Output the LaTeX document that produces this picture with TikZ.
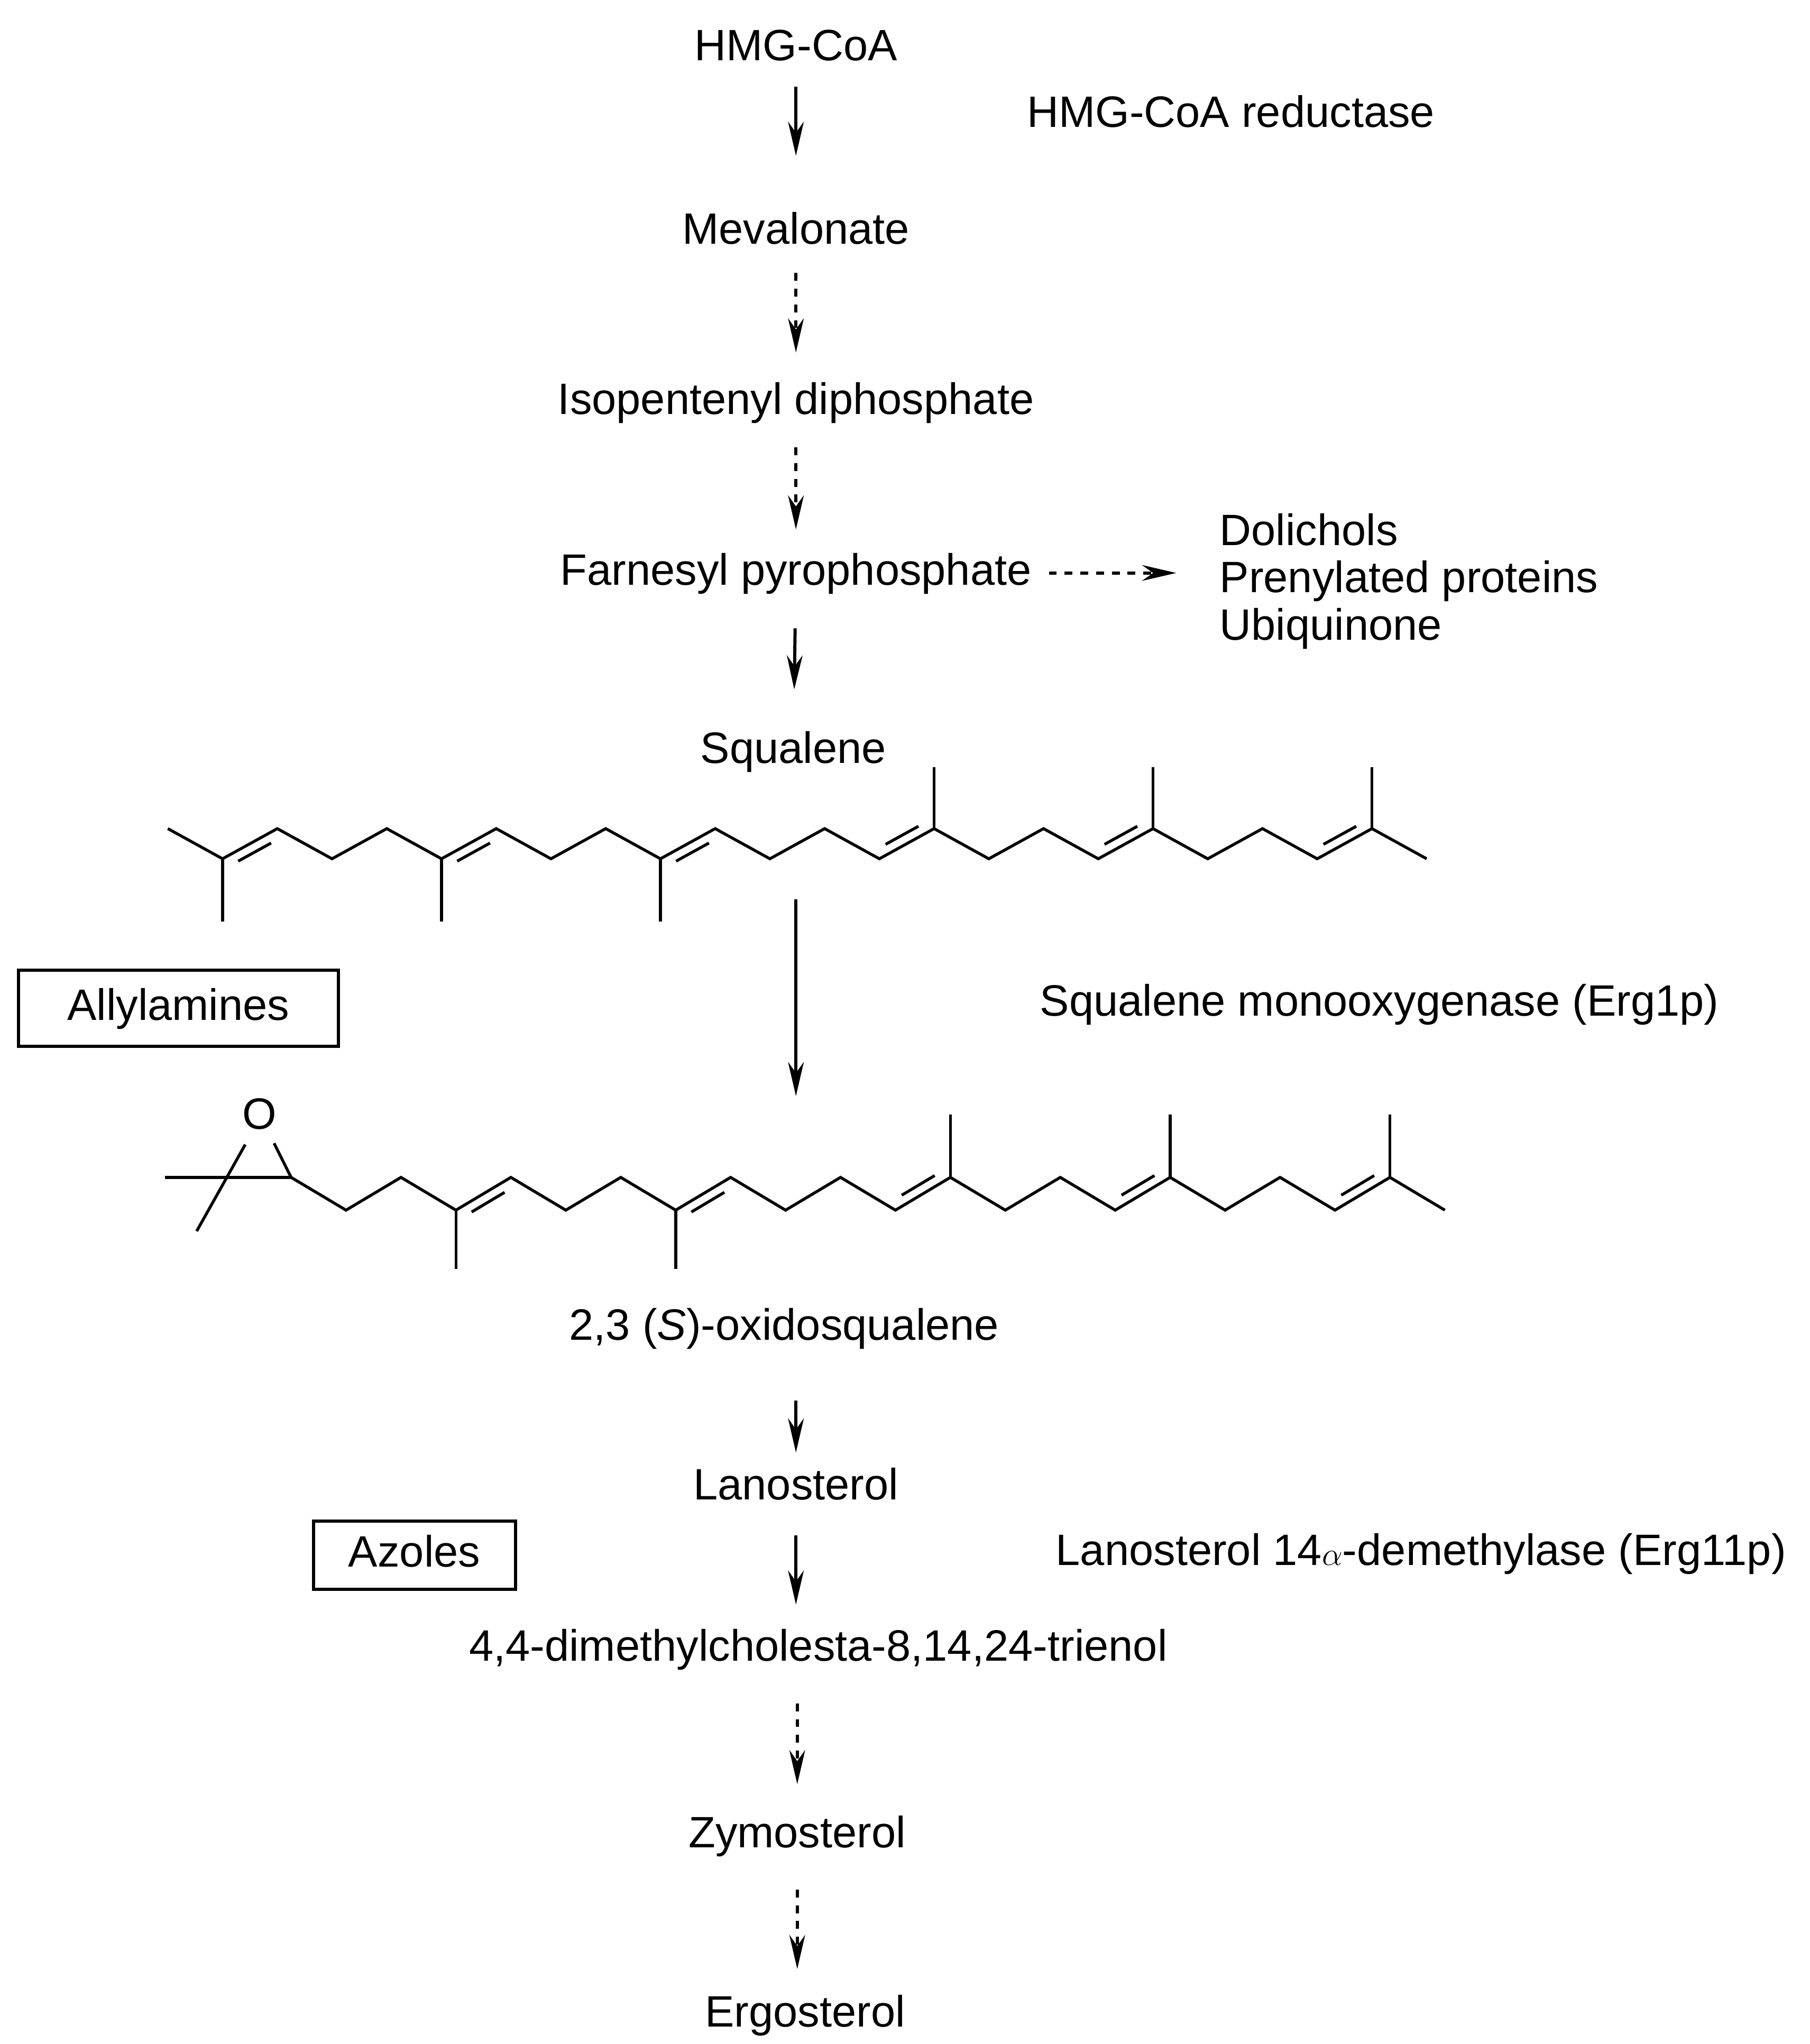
\documentclass[tikz,border=0pt]{standalone}
\usepackage{fontspec}
\setmainfont{Liberation Sans}
\usetikzlibrary{calc,arrows.meta}
\tikzset{
  lbl/.style={inner sep=0pt, text height=24pt, text depth=6pt, font=\fontsize{33.5}{38}\selectfont},
  arr/.style={line width=2.4pt, -{Stealth[length=26pt,width=12pt]}},
  darr/.style={arr, dash pattern=on 6pt off 6pt},
  bond/.style={line width=2.2pt},
  drug/.style={lbl, draw, line width=2.4pt}
}
\newcommand\dbl[5]{% inner line of a double bond
  \draw[bond] ($({#1},{#2})!0.2!({#3},{#4})+({#5*3.6},{#5*6.4})$) -- ($({#1},{#2})!0.8!({#3},{#4})+({#5*3.6},{#5*6.4})$);}

\begin{document}
\begin{tikzpicture}[x=1pt,y=-1pt]
            \useasboundingbox (0,0) rectangle (1380,1559);
            % Defining nodes
            \node[lbl] (hmg) at (607,37) {HMG-CoA};
            \node[lbl] (mev) at (607,177) {Mevalonate};
            \node[lbl] (ipp) at (607,307) {Isopentenyl diphosphate};
            \node[lbl] (fpp) at (607,437) {Farnesyl pyrophosphate};
            \node[lbl] (sq) at (605,573) {Squalene};
            \node[lbl] (oxs) at (598,1013) {2,3 (\textit{S})-oxidosqualene};
            \node[lbl] (lan) at (607,1135) {Lanosterol};
            \node[lbl] (dmc) at (624,1258) {4,4-dimethylcholesta-8,14,24-trienol};
            \node[lbl] (zym) at (608,1400) {Zymosterol};
            \node[lbl] (erg) at (614,1537) {Ergosterol};
            \node[lbl, anchor=west] (red) at (783,88) {HMG-CoA reductase};
            \node[lbl, anchor=west] (sqm) at (793,766) {Squalene monooxygenase (Erg1p)};
            \node[lbl, anchor=west] (lde) at (805,1185) {Lanosterol 14$\alpha$-demethylase (Erg11p)};
            \node[lbl, anchor=west] (dol) at (930,407) {Dolichols};
            \node[lbl, anchor=west] (pre) at (930,443) {Prenylated proteins};
            \node[lbl, anchor=west] (ubi) at (930,479) {Ubiquinone};
            \node[drug, minimum width=244pt, minimum height=58pt] (ally) at (136,769) {Allylamines};
            \node[drug, minimum width=154pt, minimum height=52pt] (azo) at (316,1186) {Azoles\hspace{12pt}};
            \coordinate (sqb) at (607,686);
            \coordinate (oxt) at (607,836);

            % Squalene
            \draw[bond] (128,632) \foreach \i in {1,...,23}{ -- ({128+41.74*\i},{mod(\i,2)==1 ? 655 : 632}) };
            \foreach \i in {1,5,9} \draw[bond] ({128+41.74*\i},655) -- ({128+41.74*\i},703);
            \foreach \i in {14,18,22} \draw[bond] ({128+41.74*\i},632) -- ({128+41.74*\i},585);
            \foreach \i in {1,5,9} {\dbl{128+41.74*\i}{655}{128+41.74*(\i+1)}{632}{1}}
            \foreach \i in {13,17,21} {\dbl{128+41.74*\i}{655}{128+41.74*(\i+1)}{632}{-1}}

            % 2,3-oxidosqualene
            \node[lbl] (ox) at (198,852) {O};
            \draw[bond] (126,898) -- (222,898);
            \draw[bond] (187,873) -- (150,939);
            \draw[bond] (209,872) -- (222,898);
            \draw[bond] (222,898) \foreach \i in {1,...,21}{ -- ({222+41.9*\i},{mod(\i,2)==1 ? 923 : 898}) };
            \foreach \i in {3,7} \draw[bond] ({222+41.9*\i},923) -- ({222+41.9*\i},968);
            \foreach \i in {12,16,20} \draw[bond] ({222+41.9*\i},898) -- ({222+41.9*\i},850);
            \foreach \i in {3,7} {\dbl{222+41.9*\i}{923}{222+41.9*(\i+1)}{898}{1}}
            \foreach \i in {11,15,19} {\dbl{222+41.9*\i}{923}{222+41.9*(\i+1)}{898}{-1}}

            % Drawing arrows
            \draw[arr, shorten <=14pt, shorten >=43pt] (hmg) -- (mev);
            \draw[darr, shorten <=16pt, shorten >=23pt] (mev) -- (ipp);
            \draw[darr, shorten <=19pt, shorten >=18pt] (ipp) -- (fpp);
            \draw[arr, shorten <=27pt, shorten >=32pt] (fpp) -- (sq);
            \draw[darr, shorten <=13pt, shorten >=33pt] (fpp.east) -- (pre.west |- fpp.east);
            \draw[arr] (sqb) -- (oxt);
            \draw[arr, shorten <=40pt, shorten >=12pt] (lan |- oxs.south) -- (lan.north);
            \draw[arr, shorten <=21pt, shorten >=19pt] (lan) -- (lan |- dmc.north);
            \draw[darr, shorten <=26pt, shorten >=24pt] (dmc.south -| zym) -- (zym);
            \draw[darr, shorten <=26pt, shorten >=20pt] (zym) -- (zym |- erg.north);
        \end{tikzpicture}
\end{document}
